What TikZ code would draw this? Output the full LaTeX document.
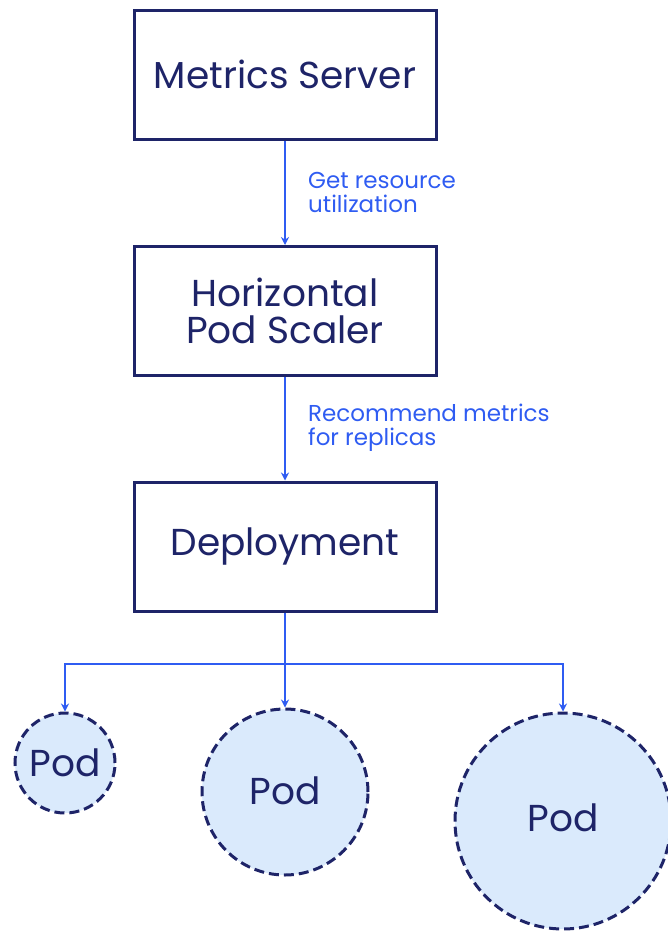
\documentclass[tikz,border=0pt]{standalone}
\usepackage{fontspec}
\setmainfont{Poppins}
\usetikzlibrary{arrows.meta}
\definecolor{navy}{HTML}{1E2468}
\definecolor{linkblue}{HTML}{2F5CF2}
\definecolor{podfill}{HTML}{DAEAFC}
\tikzset{
  stagebox/.style={draw=navy, line width=3pt, fill=white, minimum width=302pt,
    minimum height=129pt, align=center, text=navy,
    font=\fontsize{37.5}{37}\selectfont},
  podnode/.style={circle, draw=navy, line width=3pt, dash pattern=on 10pt off 5pt,
    fill=podfill, text=navy, font=\fontsize{37.5}{37}\selectfont, inner sep=0pt},
  flow/.style={draw=linkblue, line width=2.7pt,
    -{Stealth[length=8pt,width=8pt]}},
  flowlabel/.style={text=linkblue, align=left, anchor=west, inner sep=0pt,
    font=\fontsize{23}{24}\selectfont}
}
\begin{document}
\begin{tikzpicture}[x=1pt,y=-1pt]
  \useasboundingbox (0,0) rectangle (668,932);

  % stages
  \node[stagebox] (ms)  at (285,74.5) {Metrics Server};
  \node[stagebox] (hpa) at (285,311) {Horizontal\\Pod Scaler};
  \node[stagebox] (dep) at (285,546.5) {Deployment};

  % replicas
  \node[podnode, minimum size=100pt] (pod1) at (65,763) {Pod};
  \node[podnode, minimum size=166pt] (pod2) at (285,792) {\raisebox{2pt}{Pod}};
  \node[podnode, minimum size=216pt] (pod3) at (563,821) {\raisebox{6pt}{Pod}};

  % control flow
  \draw[flow] (ms) -- (hpa);
  \draw[flow] (hpa) -- (dep);
  \node[flowlabel] (l1) at (308,192) {Get resource\\utilization};
  \node[flowlabel] (l2) at (308,428) {Recommend metrics\\for replicas};

  % fan-out to the pods
  \coordinate (split) at (285,664);
  \draw[flow] (dep.south) -- (pod2.north);
  \draw[flow] (split) -| (pod1.north);
  \draw[flow] (split) -| (pod3.north);
\end{tikzpicture}
\end{document}
